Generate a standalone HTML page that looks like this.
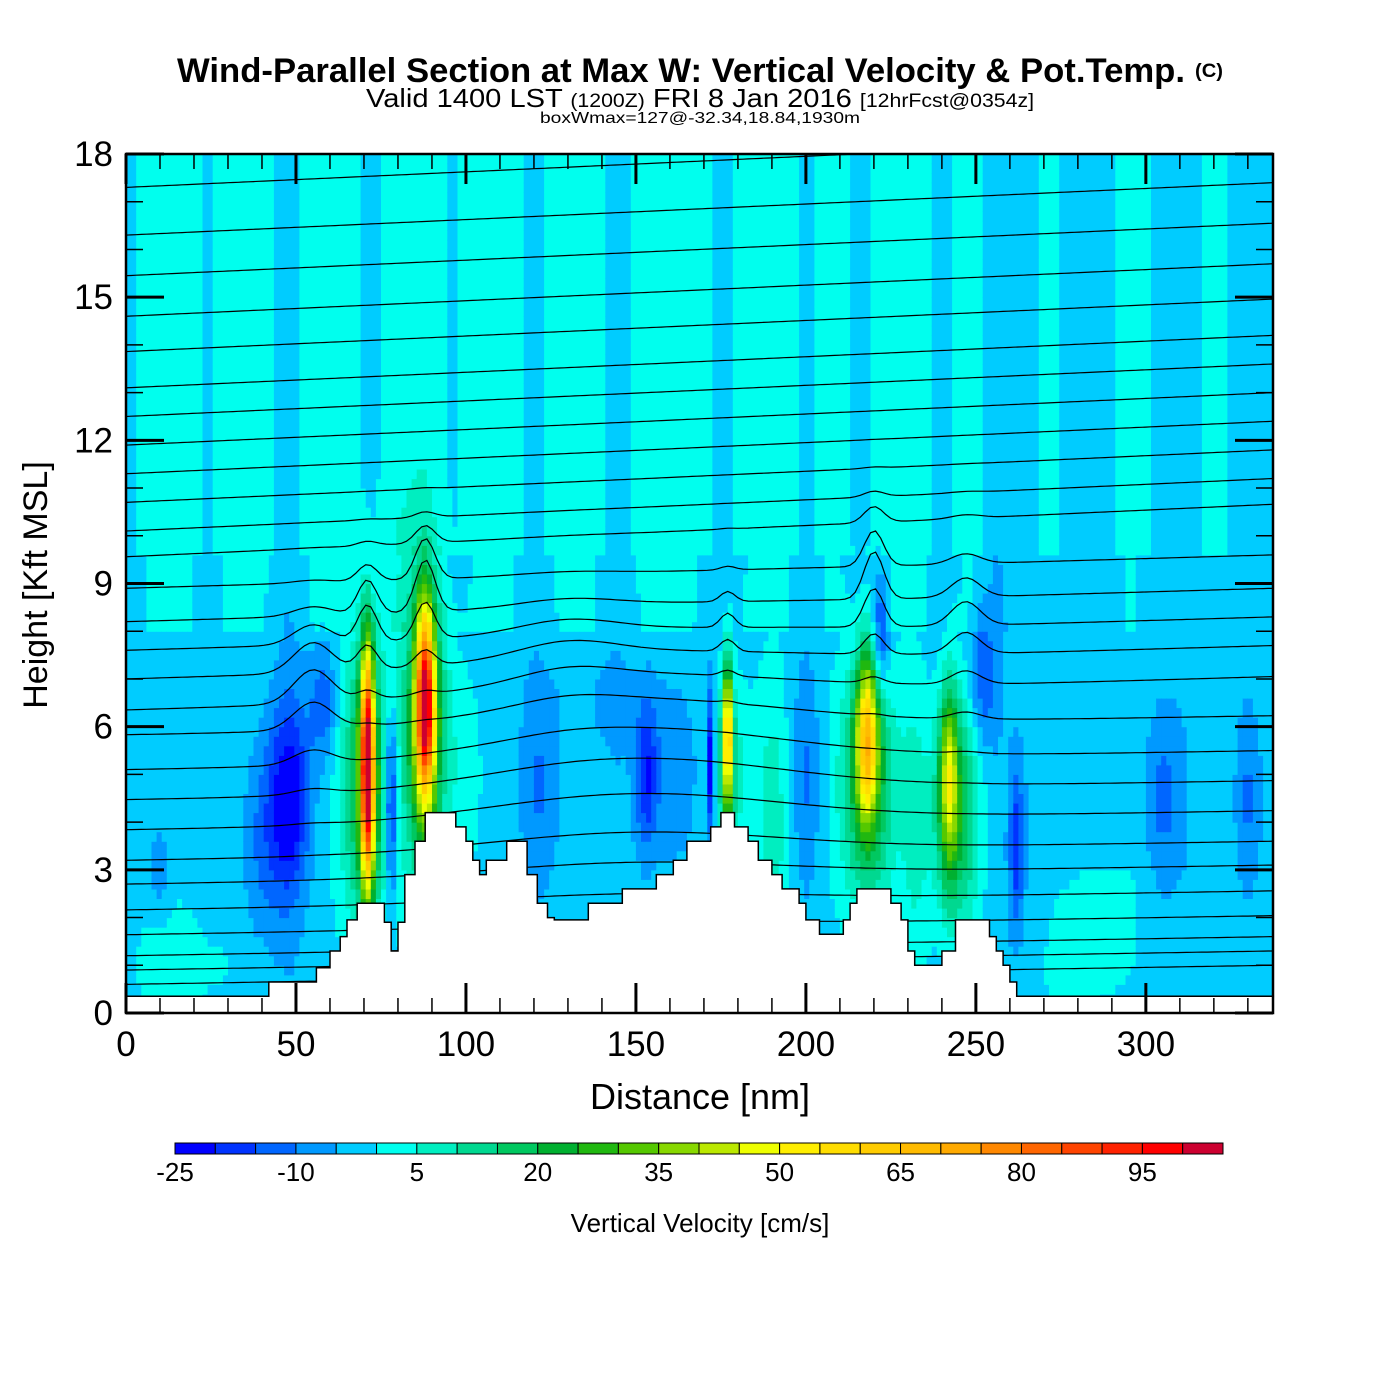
<!DOCTYPE html>
<html><head><meta charset="utf-8"><style>
html,body{margin:0;padding:0;background:#fff;}
svg{display:block;font-family:"Liberation Sans",sans-serif;}
</style></head><body>
<svg id="chart" width="1400" height="1400" viewBox="0 0 1400 1400" xmlns="http://www.w3.org/2000/svg">
<defs><clipPath id="plotclip"><rect x="126" y="154" width="1147" height="859"/></clipPath></defs>
<rect width="1400" height="1400" fill="#fff"/>
<g>
<text x="177" y="82" font-size="34" font-weight="bold" textLength="1008" lengthAdjust="spacingAndGlyphs">Wind-Parallel Section at Max W: Vertical Velocity &amp; Pot.Temp.</text>
<text x="1195" y="77" font-size="19" font-weight="bold" textLength="28" lengthAdjust="spacingAndGlyphs">(C)</text>
<text x="366" y="107" font-size="26" textLength="668" lengthAdjust="spacingAndGlyphs"><tspan>Valid 1400 LST </tspan><tspan font-size="19">(1200Z)</tspan><tspan> FRI 8 Jan 2016 </tspan><tspan font-size="19">[12hrFcst@0354z]</tspan></text>
<text x="540" y="123" font-size="16" textLength="320" lengthAdjust="spacingAndGlyphs">boxWmax=127@-32.34,18.84,1930m</text>
</g>
<g id="field" clip-path="url(#plotclip)"></g>
<g id="contours" clip-path="url(#plotclip)"></g>
<g id="terrain"></g>
<g id="axes"></g>
<g id="cbar"></g>
<text transform="translate(47,585) rotate(-90)" text-anchor="middle" font-size="34">Height [Kft MSL]</text>
<text x="700" y="1109" text-anchor="middle" font-size="36">Distance [nm]</text>
<text x="700" y="1232" text-anchor="middle" font-size="26">Vertical Velocity [cm/s]</text>
</svg>
<script>
// ---- data ----
const xTicks = [0,50,100,150,200,250,300];
const yTicks = [0,3,6,9,12,15,18];
const cbarLabels = [-25,-10,5,20,35,50,65,80,95];
const cbarColors = ["#0000ff","#0033ff","#0066ff","#0099ff","#00ccff","#00ffee","#00eec0","#00d890","#00c860","#00b030","#20b810","#55c800","#88d800","#bbe800","#eeff00","#ffee00","#ffdd00","#ffcc00","#ffbb00","#ffaa00","#ff8800","#ff6600","#ff4400","#ff2200","#ff0000","#cc0030"];
const terrainX = [0,42,56,60,63,65,68,76,78,80,82,85,88,97,100,102,104,106,112,118,121,124,126,136,146,156,161,165,172,175,179,183,186,190,193,198,200,204,211,213,215,225,228,230,232,240,244,254,256,258,260,262,337.5];
const terrainH = [0.35,0.65,0.95,1.3,1.6,1.95,2.3,1.9,1.3,1.9,2.9,3.6,4.2,3.9,3.6,3.2,2.9,3.2,3.6,2.9,2.3,2.0,1.95,2.3,2.6,2.9,3.2,3.6,3.9,4.2,3.9,3.6,3.2,2.9,2.6,2.3,1.95,1.65,1.95,2.3,2.6,2.3,1.95,1.3,1.0,1.3,1.95,1.6,1.3,1.0,0.65,0.35,0.35];
const streaks = [-2,3,4,-1,4,3,-3,4,3,-2,4,4,-1,3,4,-2,3,4,-3,3,4,2,-2,3,4,-2,3,-2,3,4,-2,3,-3,-2,2,-3,-2,3,-2,-3,2,-2,-2];
const featX = [71,88,177,218,242, 71,88,218,244,177,190,232,100,15,285,280, 48,58,78,172,153,122,160,222,252,262,305,330,40,10,200,140];
const featZ = [5.2,6.5,5.8,5.8,5.0, 4.8,5.8,4.8,4.2,5.0,4.0,4.0,5.0,1.0,2.0,0.8, 4.5,6.5,4.5,5.2,5.0,4.8,5.0,8.0,7.0,3.5,4.5,4.5,3.5,3.0,5.0,6.5];
const featSX = [1.9,2.8,1.4,3.2,2.6, 7,7,8,7,5,5,4,4,15,12,10, 6,4,2.2,1.2,3,6,8,2.5,4,2,5,3,6,3,4,15];
const featSZ = [2.4,2.0,1.6,1.7,1.8, 3,3,2.6,2.5,2,3,3,2,1.2,1.5,0.8, 2.0,1.2,2,1.5,1.5,2,2,1.2,1.5,1.5,1.5,1.5,2,1,2,1];
const featAmp = [100,90,60,52,35, 30,28,26,24,16,10,8,6,6,7,5, -22,-12,-26,-26,-16,-7,-7,-18,-12,-15,-8,-7,-8,-6,-7,-3];
const thetaLevels = [0.6,0.9,1.2,1.64,2.16,2.7,3.2,3.84,4.47,5.1,5.83,6.35,7.0,7.6,8.2,8.9,9.56,10.1,10.7,11.3,11.9,12.5,13.1,13.86,14.6,15.45,16.3,17.3];
const bumpX = [88,71,220,247,177,150,55,130];
const bumpAmp = [1.1,0.8,1.0,0.5,0.3,0.7,0.7,0.3];
const bumpW = [4,4,4,6,3,60,8,20];
const bumpZc = [8.3,7.8,8.2,7.5,7.5,4.8,6.5,7];
const bumpZw = [1.2,1.2,1.3,1.5,1.2,2.2,1.5,1.5];

const X0=126, X1=1273, Y0=1013, Y1=154, XMAX=337.4, YMAX=18;
const sx = d => X0 + d/XMAX*(X1-X0);
const sy = z => Y0 - z/YMAX*(Y0-Y1);
const NS="http://www.w3.org/2000/svg";
function mk(tag, attrs, parent){const e=document.createElementNS(NS,tag);for(const k in attrs)e.setAttribute(k,attrs[k]);parent.appendChild(e);return e;}

function streakAt(x){
  const f=x/8, i=Math.min(streaks.length-2,Math.floor(f)), t=f-i;
  return streaks[i]*(1-t)+streaks[i+1]*t;
}
function wval(x,z){
  const s=streakAt(x);
  let v = z>9.5 ? s : (z>8 ? s-2 : s*0.4-3.2);
  for(let i=0;i<featX.length;i++){
    const dx=(x-featX[i])/featSX[i], dz=(z-featZ[i])/featSZ[i];
    v += featAmp[i]*Math.exp(-dx*dx-dz*dz);
  }
  return v;
}
function colorFor(v){let i=Math.floor((v+25)/5);i=Math.max(0,Math.min(25,i));return cbarColors[i];}

const field=document.getElementById('field');
const DX=1.5, DZ=0.2;
for(let x=0;x<XMAX;x+=DX){
  for(let z=0;z<YMAX;z+=DZ){
    const r=mk('rect',{x:sx(x).toFixed(1),y:sy(z+DZ).toFixed(1),width:(sx(x+DX)-sx(x)+0.6).toFixed(1),height:(sy(z)-sy(z+DZ)+0.6).toFixed(1),fill:colorFor(wval(x+DX/2,z+DZ/2))},field);
    
    
  }
}

const cg=document.getElementById('contours');
function thetaZ(base,x){
  let z = base + (base>9 ? 1.1 : (base>6 ? 0.7 : 0.4))*x/XMAX;
  for(let i=0;i<bumpX.length;i++){
    const dx=(x-bumpX[i])/bumpW[i], dz=(base-bumpZc[i])/bumpZw[i];
    z += bumpAmp[i]*Math.exp(-dx*dx-dz*dz);
  }
  return z;
}
thetaLevels.forEach(lv=>{
  let d='';
  for(let x=0;x<=XMAX+1;x+=1.5){d+=(x===0?'M':'L')+sx(x).toFixed(1)+','+sy(thetaZ(lv,x)).toFixed(1);}
  const p=mk('path',{d:d,fill:'none',stroke:'#000','stroke-width':1.2},cg);
  
  
});

const tg=document.getElementById('terrain');
let td='M'+sx(0)+','+sy(0);
for(let i=0;i<terrainX.length-1;i++){
  td+=' L'+sx(terrainX[i]).toFixed(1)+','+sy(terrainH[i]).toFixed(1)+' L'+sx(terrainX[i+1]).toFixed(1)+','+sy(terrainH[i]).toFixed(1);
}
td+=' L'+sx(XMAX)+','+sy(0)+' Z';
const tp=mk('path',{d:td,fill:'#fff',stroke:'#000','stroke-width':1.5},tg);



const ax=document.getElementById('axes');
const frame=mk('rect',{x:X0,y:Y1,width:X1-X0,height:Y0-Y1,fill:'none',stroke:'#000','stroke-width':2.5},ax);


for(let d=0;d<=XMAX;d+=10){
  const L=(d%50===0)?30:15;
  mk('line',{x1:sx(d),x2:sx(d),y1:Y0,y2:Y0-L,stroke:'#000','stroke-width':d%50===0?3:1.5},ax);
  mk('line',{x1:sx(d),x2:sx(d),y1:Y1,y2:Y1+L,stroke:'#000','stroke-width':d%50===0?3:1.5},ax);
}
for(let z=0;z<=YMAX;z+=1){
  const L=(z%3===0)?38:17;
  mk('line',{x1:X0,x2:X0+L,y1:sy(z),y2:sy(z),stroke:'#000','stroke-width':z%3===0?3:1.5},ax);
  mk('line',{x1:X1,x2:X1-L,y1:sy(z),y2:sy(z),stroke:'#000','stroke-width':z%3===0?3:1.5},ax);
}
xTicks.forEach(t=>{
  const e=mk('text',{x:sx(t),y:1056,'text-anchor':'middle','font-size':35},ax);
  e.textContent=t;
  
  
});
yTicks.forEach(t=>{
  const e=mk('text',{x:113,y:sy(t)+12,'text-anchor':'end','font-size':35},ax);
  e.textContent=t;
  
  
});

const cb=document.getElementById('cbar');
const CB0=175, CB1=1223, CBW=(CB1-CB0)/cbarColors.length;
cbarColors.forEach((c,i)=>{
  const r=mk('rect',{x:CB0+i*CBW,y:1143,width:CBW,height:11,fill:c,stroke:'#000','stroke-width':1},cb);
  
  
});
cbarLabels.forEach(v=>{
  const e=mk('text',{x:CB0+(v+25)/5*CBW,y:1181,'text-anchor':'middle','font-size':26},cb);
  e.textContent=v;
  
  
});
</script>
</body></html>
